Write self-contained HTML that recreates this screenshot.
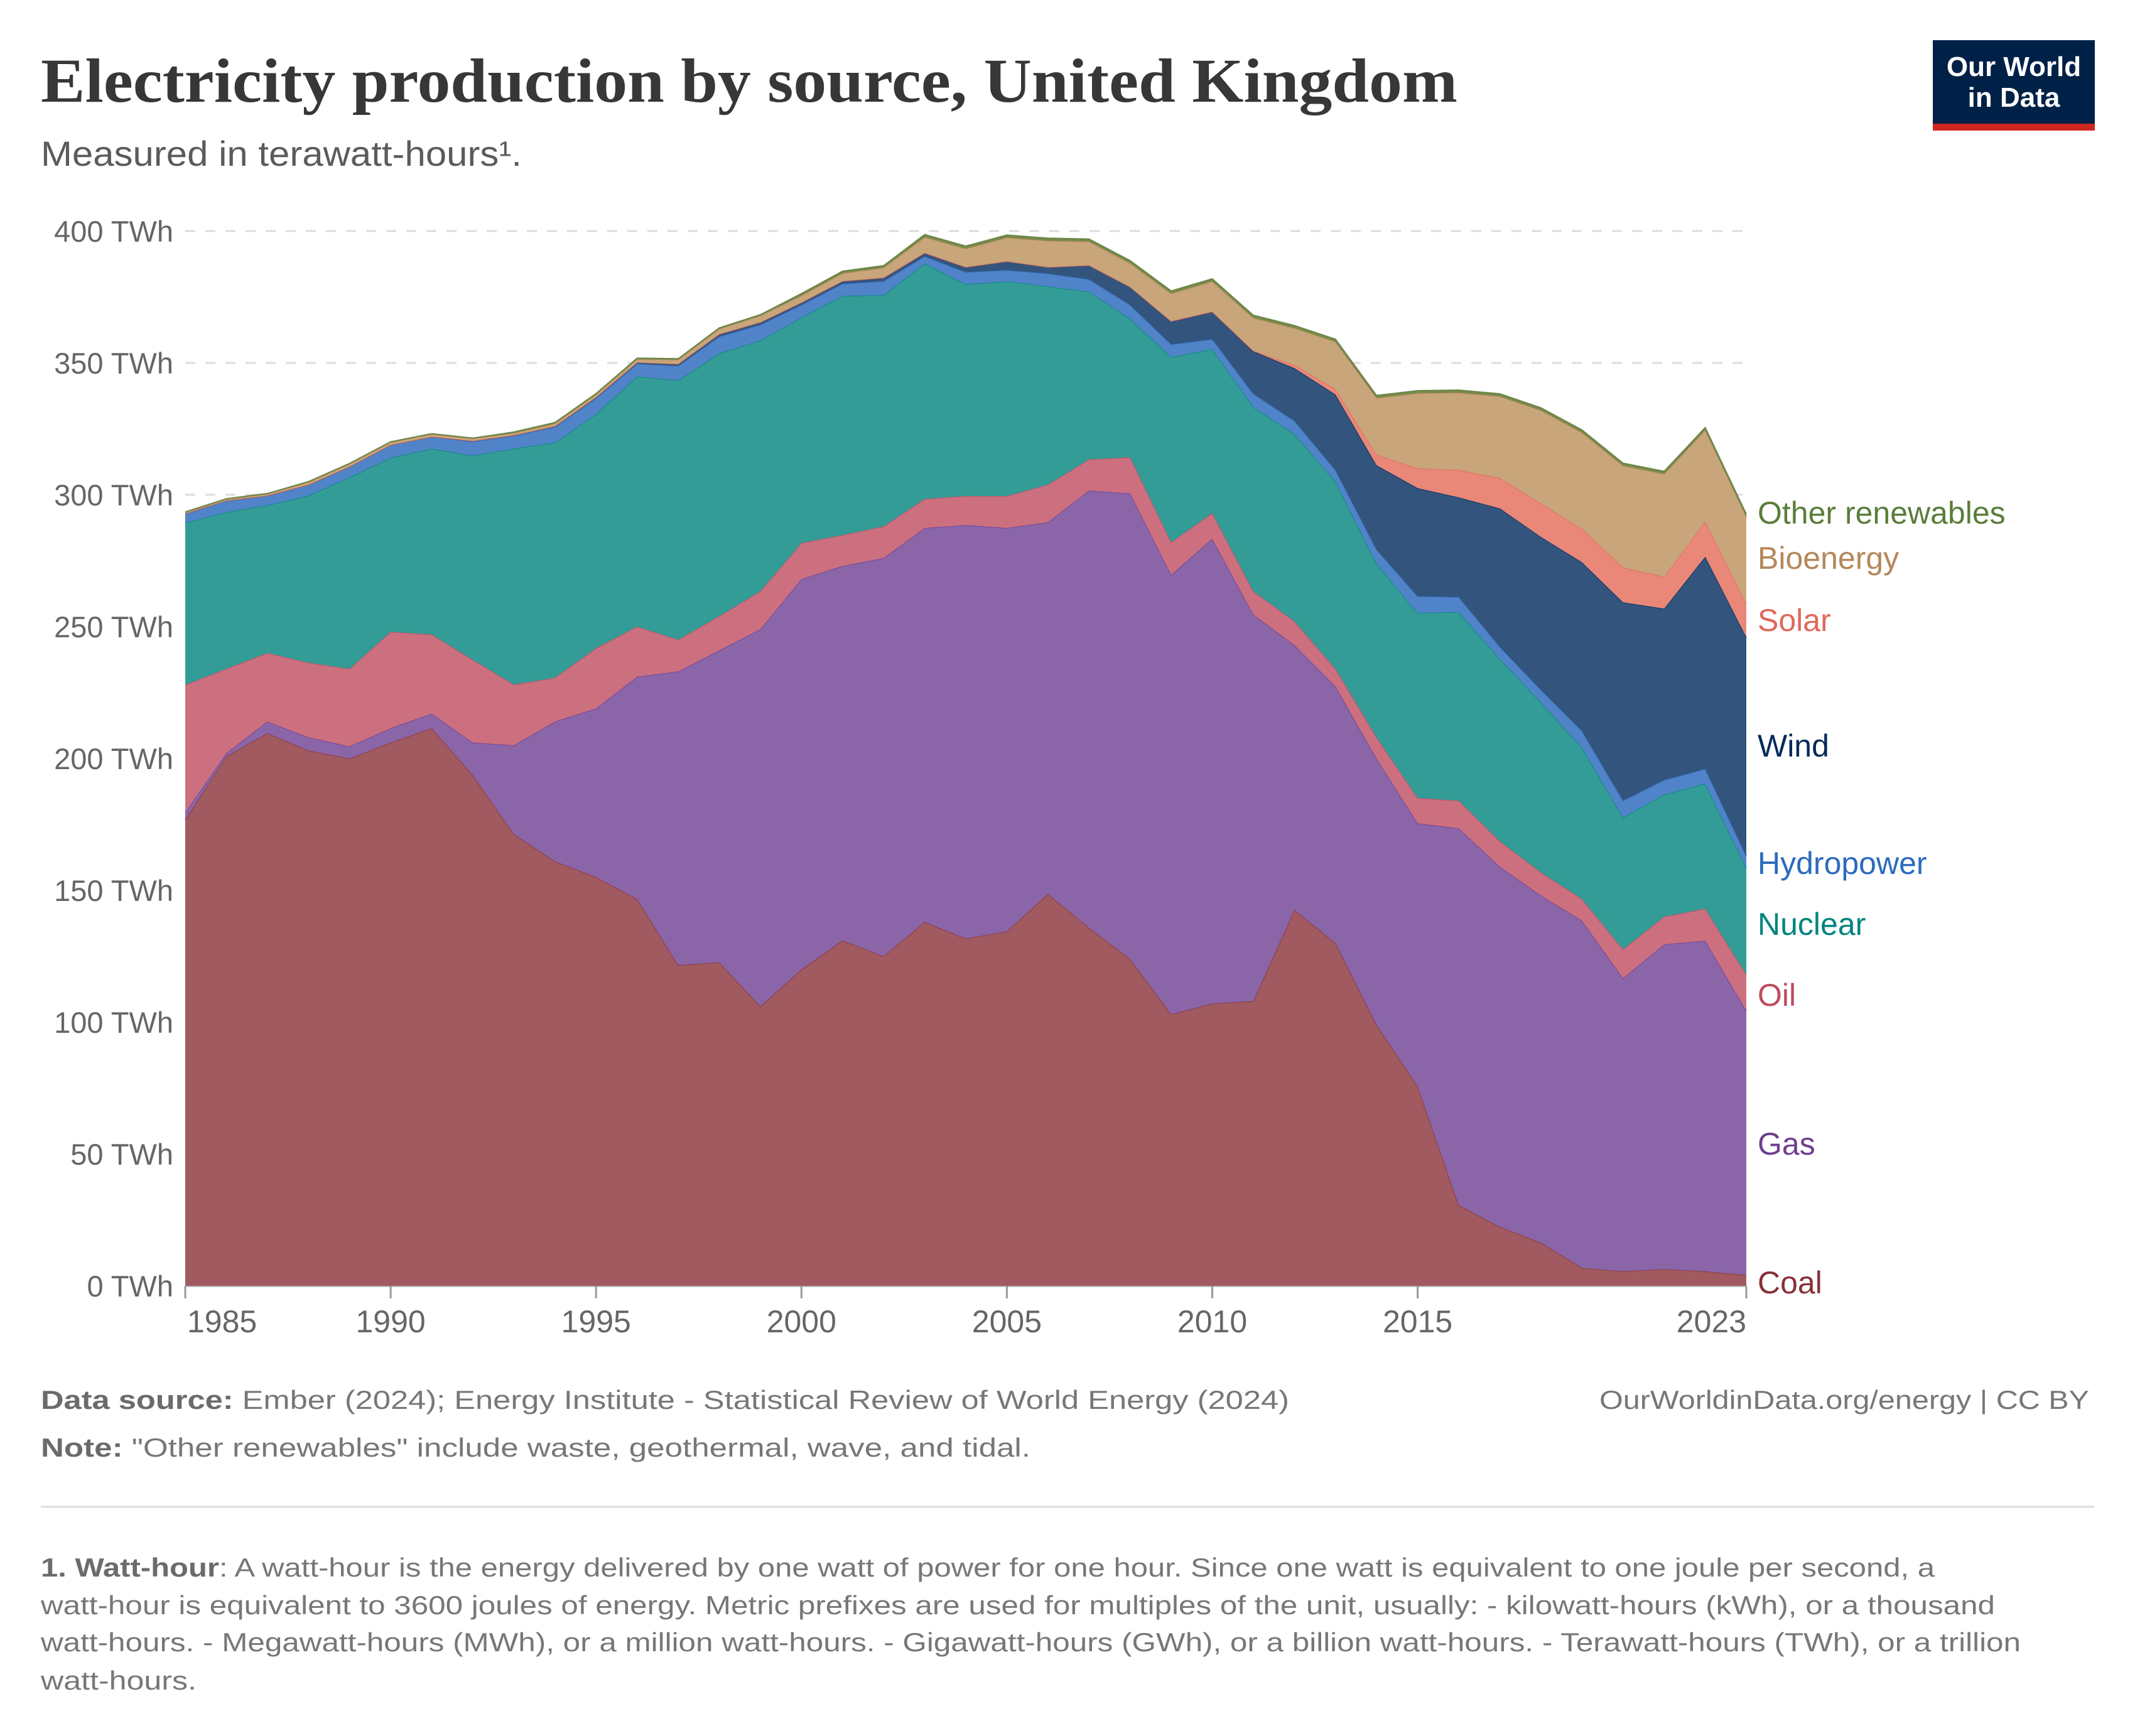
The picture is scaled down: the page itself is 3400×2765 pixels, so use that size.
<!DOCTYPE html>
<html><head><meta charset="utf-8"><style>
html,body{margin:0;padding:0;background:#fff;}
svg{display:block;}
text{font-family:"Liberation Sans",sans-serif;}
</style></head><body>
<svg id="chart" width="3400" height="2765" viewBox="0 0 3400 2765" xmlns="http://www.w3.org/2000/svg">
<text x="65" y="162" style="font-family:'Liberation Serif',serif;" font-weight="bold" font-size="100" fill="#373737" textLength="2256" lengthAdjust="spacingAndGlyphs">Electricity production by source, United Kingdom</text>
<text x="65" y="264" font-size="56" fill="#5b5b5b" textLength="766" lengthAdjust="spacingAndGlyphs">Measured in terawatt-hours¹.</text>
<g>
<rect x="3078" y="64" width="258" height="134" fill="#002147"/>
<rect x="3078" y="197" width="258" height="11" fill="#ce261e"/>
<text x="3207" y="121" font-size="44" fill="#fff" text-anchor="middle" font-weight="bold">Our World</text>
<text x="3207" y="170" font-size="44" fill="#fff" text-anchor="middle" font-weight="bold">in Data</text>
</g>
<g id="grid"></g>
<g id="yticks"></g>
<g id="areas"></g>
<g id="xaxis"></g>
<g font-size="50">
<text x="2799" y="834" fill="#5a7d3a">Other renewables</text>
<text x="2799" y="906" fill="#b5875a">Bioenergy</text>
<text x="2799" y="1005" fill="#e0685a">Solar</text>
<text x="2799" y="1205" fill="#00295b">Wind</text>
<text x="2799" y="1392" fill="#2b6bbd">Hydropower</text>
<text x="2799" y="1489" fill="#00847e">Nuclear</text>
<text x="2799" y="1602" fill="#c04a60">Oil</text>
<text x="2799" y="1839" fill="#6d3e91">Gas</text>
<text x="2799" y="2060" fill="#883039">Coal</text>
</g>
<g font-size="42" fill="#777">
<text x="65" y="2244" textLength="1988" lengthAdjust="spacingAndGlyphs"><tspan font-weight="bold" fill="#6b6b6b">Data source:</tspan> Ember (2024); Energy Institute - Statistical Review of World Energy (2024)</text>
<text x="3327" y="2244" text-anchor="end" textLength="780" lengthAdjust="spacingAndGlyphs">OurWorldinData.org/energy | CC BY</text>
<text x="65" y="2320" textLength="1576" lengthAdjust="spacingAndGlyphs"><tspan font-weight="bold" fill="#6b6b6b">Note:</tspan> "Other renewables" include waste, geothermal, wave, and tidal.</text>
<line x1="65" y1="2400" x2="3335" y2="2400" stroke="#ddd" stroke-width="3"/>
<text x="65" y="2511" textLength="3016" lengthAdjust="spacingAndGlyphs"><tspan font-weight="bold" fill="#6b6b6b">1. Watt-hour</tspan>: A watt-hour is the energy delivered by one watt of power for one hour. Since one watt is equivalent to one joule per second, a</text>
<text x="65" y="2571" textLength="3112" lengthAdjust="spacingAndGlyphs">watt-hour is equivalent to 3600 joules of energy. Metric prefixes are used for multiples of the unit, usually: - kilowatt-hours (kWh), or a thousand</text>
<text x="65" y="2630" textLength="3153" lengthAdjust="spacingAndGlyphs">watt-hours. - Megawatt-hours (MWh), or a million watt-hours. - Gigawatt-hours (GWh), or a billion watt-hours. - Terawatt-hours (TWh), or a trillion</text>
<text x="65" y="2691" textLength="248" lengthAdjust="spacingAndGlyphs">watt-hours.</text>
</g>
</svg>
<script>
const years = [];
for (let y = 1985; y <= 2023; y++) years.push(y);
const coal = [176.8,200.8,209.6,203,200,206,211.5,193.7,171.3,161,155,146.7,121.6,122.7,106,120,131,125,138,131.7,134.4,148.6,135.8,124,103,107,108,142.6,130,99,75.7,30.6,22.4,16.4,6.8,5.5,6.3,5.5,4.1];
const gas = [2.7,1.2,4.4,5,4.6,5.5,5.5,12.3,33.7,53,64,84.3,111.4,118.3,143,148,142,151,149.4,156.8,153,141,165.8,176.5,166.7,176.3,146.6,100.4,97.3,101,99.7,142.9,136.6,131.6,131.7,111.2,123.2,125.4,100.3];
const oil = [48.4,32,26,28.3,29.4,36.5,30,31.4,23,16.6,22.8,19,12,13,14.4,13.7,11.7,12,11,11,12.1,14.2,11.8,13.7,12.3,9.7,8.8,9,6.7,8,9.6,10.5,9.6,8.8,8.2,10.9,10.5,12.1,13.6];
const nuclear = [61.4,59.4,56,63.4,72.6,66,70.5,77.4,89.5,89.1,88.8,94.8,98.4,99.6,95.1,85.5,90.7,87.7,89.3,80.3,81.4,75.2,63.6,52.5,70.2,62.2,69.9,71,71,65.8,70.2,71.5,69.1,64.5,57.3,50,46.3,47.4,40.5];
const hydro = [3.6,4.4,3.7,4.1,4.1,4.9,4.5,5.4,4.9,6,6,4.9,5.5,6.4,6,4.8,4.6,5.3,2.7,4.6,4.3,4.9,4.7,5.3,4.8,3.8,5,5,4.3,5.4,6.3,5.7,4.6,4.7,6.4,6.4,5.5,5.6,4.5];
const wind = [0,0,0,0,0,0,0,0.2,0.2,0.3,0.4,0.5,0.7,0.9,0.9,0.9,1,1.3,1.3,1.9,3.3,2.4,5.3,6.8,8.8,10.4,16.1,20,28.7,32,41,37.8,52.5,58,64,75.2,65,80.5,83];
const solar = [0,0,0,0,0,0,0,0,0,0,0,0,0,0,0,0,0,0,0,0,0,0,0,0,0,0,0.2,1.2,2,4,7.5,10.4,11.5,12.7,12.7,13.2,12.1,13.3,12.7];
const bioenergy = [0.4,0.5,0.6,1,1,1,1,0.9,0.8,1,1,1.2,1.6,2,2.5,2.6,3,3.8,6,7,9,10,9,9,10.5,11.5,12.5,14,18,21.5,28.5,29.3,31,35.3,36.5,38.6,39,34.7,33];
const other = [0.2,0.2,0.2,0.2,0.2,0.2,0.2,0.2,0.4,0.4,0.4,0.4,0.4,0.4,0.4,0.8,0.8,0.8,1,1,1,1,1,1,1,1,1,1,1,1,1,1,1,1,1,1,1,1,1];
const yTicks = [0,50,100,150,200,250,300,350,400];
const xTicks = [1985,1990,1995,2000,2005,2010,2015,2023];

const NS = "http://www.w3.org/2000/svg";
const X0 = 295, X1 = 2781, Y0 = 2048, Y400 = 368;
function xs(yr){ return X0 + (yr - 1985) * (X1 - X0) / (2023 - 1985); }
function ys(v){ return Y0 - v * (Y0 - Y400) / 400; }
function mk(tag, attrs, parent){ const e = document.createElementNS(NS, tag); for (const k in attrs) e.setAttribute(k, attrs[k]); parent.appendChild(e); return e; }

const grid = document.getElementById('grid');
const yt = document.getElementById('yticks');
yTicks.forEach(v => {
  if (v > 0) {
    const l = mk('line', {x1: X0, x2: X1, y1: ys(v), y2: ys(v), stroke: '#dcdcdc', 'stroke-width': 3, 'stroke-dasharray': '16,16'}, grid);
    
    
  }
  const t = mk('text', {x: 276, y: ys(v) + 17, 'text-anchor': 'end', 'font-size': 47, fill: '#666'}, yt);
  t.textContent = v + ' TWh';
  
  
});

const series = [
  {name:'coal', data:coal, fill:'#a05a60', stroke:'#883039'},
  {name:'gas', data:gas, fill:'#8a65a8', stroke:'#6d3e91'},
  {name:'oil', data:oil, fill:'#cc7080', stroke:'#c04a60'},
  {name:'nuclear', data:nuclear, fill:'#349c96', stroke:'#00847e'},
  {name:'hydropower', data:hydro, fill:'#5083c8', stroke:'#2b6bbd'},
  {name:'wind', data:wind, fill:'#33547d', stroke:'#00295b'},
  {name:'solar', data:solar, fill:'#e98878', stroke:'#e0685a'},
  {name:'bioenergy', data:bioenergy, fill:'#c8a57a', stroke:'#b5875a'},
  {name:'other-renewables', data:other, fill:'#7a8a4a', stroke:'#5a7d3a'}
];
const areas = document.getElementById('areas');
let base = years.map(() => 0);
series.forEach(s => {
  const top = base.map((b, i) => b + s.data[i]);
  let d = '';
  years.forEach((yr, i) => { d += (i ? 'L' : 'M') + xs(yr).toFixed(1) + ',' + ys(top[i]).toFixed(1); });
  for (let i = years.length - 1; i >= 0; i--) d += 'L' + xs(years[i]).toFixed(1) + ',' + ys(base[i]).toFixed(1);
  d += 'Z';
  const p = mk('path', {d: d, fill: s.fill}, areas);
  
  
  let ld = '';
  years.forEach((yr, i) => { ld += (i ? 'L' : 'M') + xs(yr).toFixed(1) + ',' + ys(top[i]).toFixed(1); });
  const ln = mk('path', {d: ld, fill: 'none', stroke: s.stroke, 'stroke-width': 2, 'stroke-opacity': 0.8}, areas);
  
  
  base = top;
});

const xa = document.getElementById('xaxis');
const axl = mk('line', {x1: X0, x2: X1, y1: Y0 + 1, y2: Y0 + 1, stroke: '#bbb', 'stroke-width': 2}, xa);


xTicks.forEach((yr, i) => {
  const tk = mk('line', {x1: xs(yr), x2: xs(yr), y1: Y0, y2: Y0 + 20, stroke: '#999', 'stroke-width': 3}, xa);
  
  
  const anchor = i === 0 ? 'start' : (i === xTicks.length - 1 ? 'end' : 'middle');
  const t = mk('text', {x: xs(yr) + (i === 0 ? 3 : 0), y: 2122, 'text-anchor': anchor, 'font-size': 50, fill: '#666'}, xa);
  t.textContent = yr;
  
  
});
</script>
</body></html>
